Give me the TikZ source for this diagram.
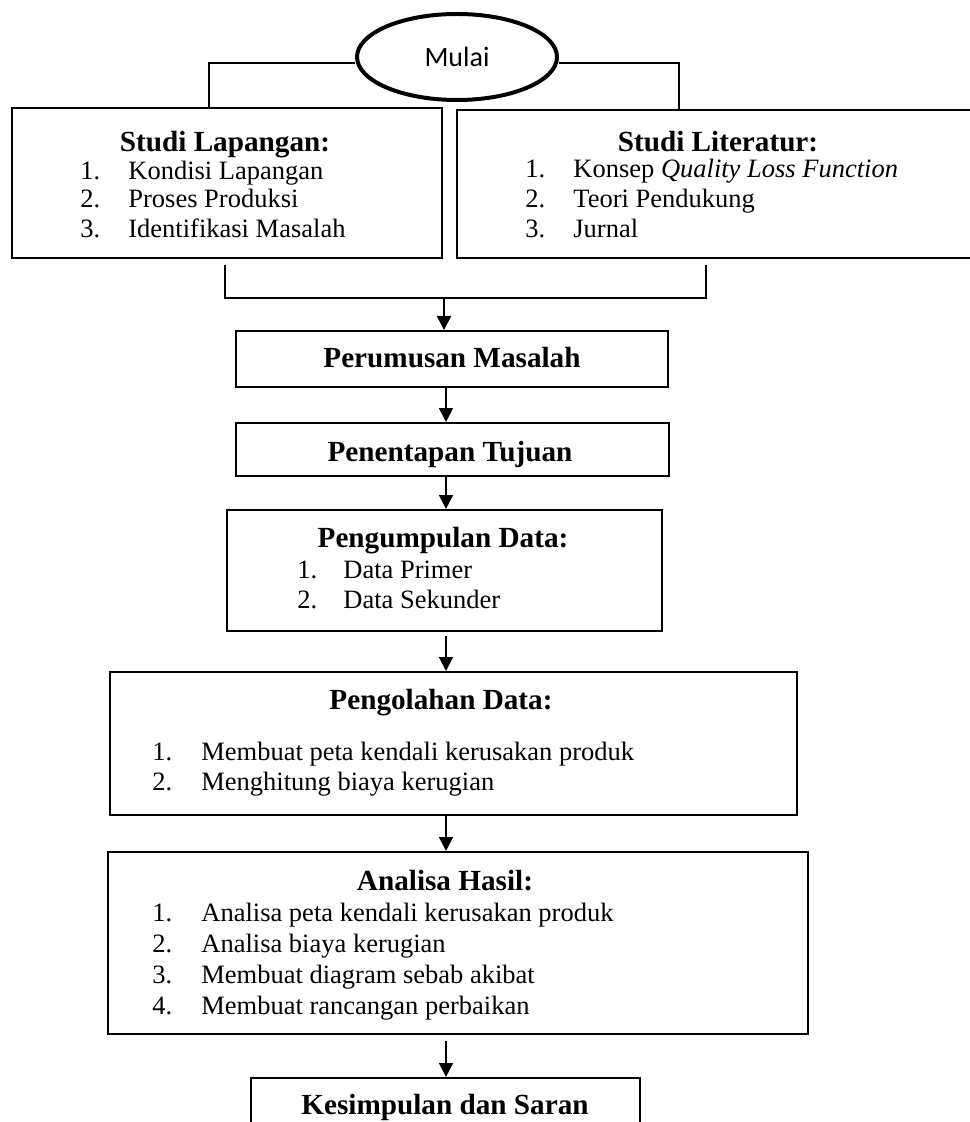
\documentclass[tikz,border=0pt]{standalone}
\usepackage{fontspec}
\setmainfont{Liberation Serif}
\newfontfamily\mulaifont{Carlito}
\usetikzlibrary{arrows.meta,shapes.geometric}

\begin{document}
\begin{tikzpicture}[
        x=0.5pt, y=-0.5pt,
        box/.style={draw=black, line width=1pt, inner sep=0pt, fill=white},
        headtext/.style={anchor=base, font=\fontsize{14.6}{17}\selectfont\bfseries, inner sep=0pt},
        itemtext/.style={anchor=base west, inner sep=0pt, font=\fontsize{13.25}{15}\selectfont},
        line/.style={line width=0.85pt},
        arr/.style={line width=0.85pt, -{Triangle[width=7pt,length=7pt]}}]

    \useasboundingbox (0,0) rectangle (969,1122);

    % NODES
    % start
    \node[ellipse, draw=black, line width=2pt, minimum width=100pt, minimum height=43pt,
          font=\mulaifont\fontsize{14}{16}\selectfont] (mulai) at (457,57) {Mulai};

    % studi lapangan / literatur
    \node[box, minimum width=215pt, minimum height=75pt] (lap) at (227,183) {};
    \node[box, minimum width=261pt, minimum height=74pt] (lit) at (718,184) {};

    % main column
    \node[box, minimum width=216pt, minimum height=28pt] (rum) at (452,359) {};
    \node[box, below of = rum, node distance = 45.25pt, minimum width=216.5pt, minimum height=26.5pt] (tuj) {};
    \node[box, below of = tuj, node distance = 60.5pt, xshift=-3.75pt, minimum width=217.5pt, minimum height=60.5pt] (kum) {};
    \node[box, below of = kum, node distance = 86.5pt, xshift=4.5pt, minimum width=343.5pt, minimum height=71.5pt] (olah) {};
    \node[box, below of = olah, node distance = 99.75pt, xshift=2.25pt, minimum width=350pt, minimum height=91pt] (anal) {};
    \node[box, below of = anal, node distance = 81.5pt, xshift=-6.25pt, minimum width=194.5pt, minimum height=28pt] (kes) {};

    % texts
    \node[headtext] (lapT) at (225,152) {Studi Lapangan:};
    \node[itemtext] (lapN1) at (80,180) {1.};
    \node[itemtext] (lapI1) at (128,180) {Kondisi Lapangan};
    \node[itemtext] (lapN2) at (80,208) {2.};
    \node[itemtext] (lapI2) at (128,208) {Proses Produksi};
    \node[itemtext] (lapN3) at (80,238) {3.};
    \node[itemtext] (lapI3) at (128,238) {Identifikasi Masalah};

    \node[headtext] (litT) at (718,152) {Studi Literatur:};
    \node[itemtext] (litN1) at (525,178) {1.};
    \node[itemtext] (litI1) at (573,178) {Konsep \textit{Quality Loss Function}};
    \node[itemtext] (litN2) at (525,208) {2.};
    \node[itemtext] (litI2) at (573,208) {Teori Pendukung};
    \node[itemtext] (litN3) at (525,238) {3.};
    \node[itemtext] (litI3) at (573,238) {Jurnal};

    \node[headtext] (rumT) at (452,368) {Perumusan Masalah};
    \node[headtext] (tujT) at (450,461) {Penentapan Tujuan};

    \node[headtext] (kumT) at (443,547) {Pengumpulan Data:};
    \node[itemtext] (kumN1) at (297,578) {1.};
    \node[itemtext] (kumI1) at (343,578) {Data Primer};
    \node[itemtext] (kumN2) at (297,608) {2.};
    \node[itemtext] (kumI2) at (343,608) {Data Sekunder};

    \node[headtext] (olahT) at (441,709) {Pengolahan Data:};
    \node[itemtext] (olahN1) at (152,760) {1.};
    \node[itemtext] (olahI1) at (201,760) {Membuat peta kendali kerusakan produk};
    \node[itemtext] (olahN2) at (152,790) {2.};
    \node[itemtext] (olahI2) at (201,790) {Menghitung biaya kerugian};

    \node[headtext] (analT) at (445,890) {Analisa Hasil:};
    \node[itemtext] (analN1) at (152,921) {1.};
    \node[itemtext] (analI1) at (201,921) {Analisa peta kendali kerusakan produk};
    \node[itemtext] (analN2) at (152,952) {2.};
    \node[itemtext] (analI2) at (201,952) {Analisa biaya kerugian};
    \node[itemtext] (analN3) at (152,983) {3.};
    \node[itemtext] (analI3) at (201,983) {Membuat diagram sebab akibat};
    \node[itemtext] (analN4) at (152,1014) {4.};
    \node[itemtext] (analI4) at (201,1014) {Membuat rancangan perbaikan};

    \node[headtext] (kesT) at (445,1114) {Kesimpulan dan Saran};

    % bracket points
    \coordinate (lapIn) at (209,108);
    \coordinate (litIn) at (679,110);
    \coordinate (lapOut) at (225,265);
    \coordinate (litOut) at (706,265);
    \coordinate (join) at (444,298);
    \coordinate (spine) at (446,0);

    % LINES
    \draw[line] ([yshift=-3pt]mulai.west) -| (lapIn);
    \draw[line] ([yshift=-3pt]mulai.east) -| (litIn);
    \draw[line] (lapOut) |- (join) -| (litOut);

    % ARROWS
    \draw[arr] (join) -- (join |- rum.north);
    \draw[arr] (rum.south -| spine) -- (tuj.north -| spine);
    \draw[arr] (tuj.south -| spine) -- (kum.north -| spine);
    \draw[arr] ([yshift=-2pt]kum.south -| spine) -- (olah.north -| spine);
    \draw[arr] (olah.south -| spine) -- (anal.north -| spine);
    \draw[arr] ([yshift=-3pt]anal.south -| spine) -- (kes.north -| spine);
\end{tikzpicture}
\end{document}
